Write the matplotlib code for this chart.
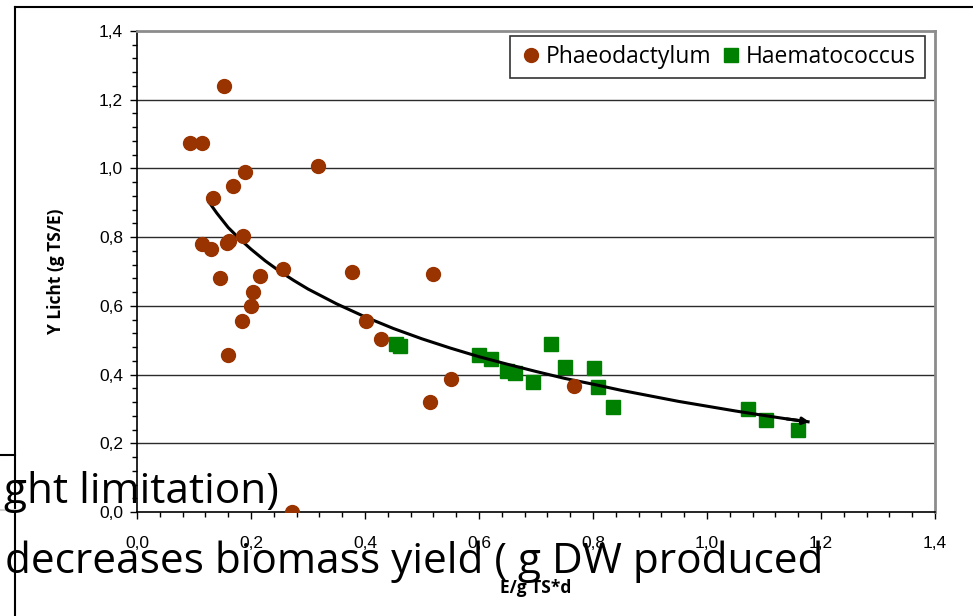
import matplotlib
matplotlib.use("Agg")
import matplotlib.pyplot as plt
from matplotlib.lines import Line2D
from matplotlib.ticker import MultipleLocator, FuncFormatter

# %% data
phaeo_x = [0.093, 0.114, 0.153, 0.133, 0.168, 0.189, 0.318, 0.114, 0.130, 0.158,
           0.161, 0.186, 0.146, 0.216, 0.256, 0.204, 0.200, 0.184, 0.160, 0.377,
           0.519, 0.402, 0.428, 0.551, 0.514, 0.767, 0.272]
phaeo_y = [1.074, 1.074, 1.240, 0.914, 0.949, 0.990, 1.007, 0.780, 0.765, 0.783,
           0.789, 0.803, 0.681, 0.687, 0.707, 0.640, 0.600, 0.556, 0.457, 0.698,
           0.693, 0.556, 0.503, 0.387, 0.320, 0.367, 0.000]

haem_x = [0.454, 0.461, 0.600, 0.621, 0.649, 0.663, 0.695, 0.726, 0.751, 0.802,
          0.809, 0.835, 1.072, 1.104, 1.160]
haem_y = [0.489, 0.483, 0.457, 0.445, 0.410, 0.405, 0.378, 0.489, 0.422, 0.419,
          0.364, 0.306, 0.300, 0.268, 0.239]

# trend line (arrow)
trend_x = [0.125, 0.14, 0.16, 0.18, 0.2, 0.225, 0.25, 0.275, 0.3, 0.35, 0.4, 0.45,
           0.5, 0.55, 0.6, 0.65, 0.7, 0.75, 0.8, 0.85, 0.9, 0.95, 1.0, 1.05,
           1.1, 1.14, 1.18]
trend_y = [0.905, 0.870, 0.828, 0.795, 0.765, 0.731, 0.701, 0.674, 0.649, 0.606,
           0.568, 0.534, 0.504, 0.477, 0.452, 0.430, 0.409, 0.389, 0.372, 0.354,
           0.338, 0.322, 0.308, 0.294, 0.281, 0.271, 0.262]

labels = ["Phaeodactylum", "Haematococcus"]
x_label = "E/g TS*d"
y_label = "Y Licht (g TS/E)"
overlay_1 = "ght limitation)"
overlay_2 = "decreases biomass yield ( g DW produced"

brown = "#993300"
green = "#008000"

W, H = 973, 616
fig = plt.figure(figsize=(W / 100, H / 100), dpi=100)
ax = fig.add_axes([137 / W, 1 - 512 / H, (935 - 137) / W, (512 - 31) / H])

# %% marks
h_haem, = ax.plot(haem_x, haem_y, ls="none", marker="s", ms=10, color=green,
                  mec=green, label=labels[1], zorder=3)
ax.plot(trend_x, trend_y, color="black", lw=2.2, zorder=4, solid_capstyle="butt",
        solid_joinstyle="round")
ax.annotate("", xy=(trend_x[-1], trend_y[-1]), xytext=(trend_x[-2], trend_y[-2]),
            arrowprops=dict(arrowstyle="-|>", color="black", lw=2.2,
                            mutation_scale=10, shrinkA=0, shrinkB=0), zorder=4)
h_phaeo, = ax.plot(phaeo_x, phaeo_y, ls="none", marker="o", ms=10, color=brown,
                   mec=brown, label=labels[0], zorder=5)

# %% axes
ax.set_xlim(0, 1.4)
ax.set_ylim(0, 1.4)
ax.xaxis.set_major_locator(MultipleLocator(0.2))
ax.yaxis.set_major_locator(MultipleLocator(0.2))
ax.xaxis.set_minor_locator(MultipleLocator(0.04))
ax.yaxis.set_minor_locator(MultipleLocator(0.04))
fmt = FuncFormatter(lambda v, p: f"{v:.1f}".replace(".", ","))
ax.xaxis.set_major_formatter(fmt)
ax.yaxis.set_major_formatter(fmt)
ax.tick_params(which="both", direction="out", top=False, right=False,
               width=1, color="black")
ax.tick_params(which="major", length=5, labelsize=12.5, labelfontfamily="Liberation Sans")
ax.tick_params(which="minor", length=3.5)
ax.tick_params(axis="x", which="major", pad=12)
ax.tick_params(axis="y", which="major", pad=5)

for yv in [0.2, 0.4, 0.6, 0.8, 1.0, 1.2]:
    ax.axhline(yv, color="#2b2b2b", lw=1.0, zorder=1)

for s in ["left", "bottom"]:
    ax.spines[s].set_color("black")
    ax.spines[s].set_linewidth(1.2)
for s in ["top", "right"]:
    ax.spines[s].set_color("#8c8c8c")
    ax.spines[s].set_linewidth(2)

ax.set_xlabel(x_label, fontsize=12.5, fontweight="bold", family="Open Sans")
ax.xaxis.set_label_coords(0.5, -(579 - 512) / (512 - 31), transform=ax.transAxes)
ax.set_ylabel(y_label, fontsize=12.5, fontweight="bold", family="Open Sans")
ax.yaxis.set_label_coords(-(137 - 65) / (935 - 137), 0.5)

leg = ax.legend(handles=[h_phaeo, h_haem], loc="upper right", ncol=2, frameon=True,
                fancybox=False,
                bbox_to_anchor=((925 - 137) / (935 - 137), 1 - (36 - 31) / (512 - 31)),
                borderaxespad=0, handletextpad=0.15, columnspacing=0.35,
                handlelength=1.0, borderpad=0.4,
                prop={"family": "Open Sans", "size": 16.5})
leg.get_frame().set_edgecolor("black")
leg.get_frame().set_linewidth(1.2)

# %% slide frame and overlapping text
fig.add_artist(Line2D([15 / W, 15 / W], [0, 1 - 7 / H], color="black", lw=1.5))
fig.add_artist(Line2D([15 / W, 1], [1 - 7 / H, 1 - 7 / H], color="black", lw=1.5))
fig.add_artist(Line2D([0, 15 / W], [1 - 455 / H, 1 - 455 / H], color="black", lw=1.5))
fig.add_artist(Line2D([0, 15 / W], [1 - 510 / H, 1 - 510 / H], color="#cfcfcf", lw=1.5))

fig.text(279 / W, 1 - 503 / H, overlay_1, ha="right", va="baseline",
         fontsize=30.5, family="Open Sans", color="black", zorder=10)
fig.text(5 / W, 1 - 573 / H, overlay_2, ha="left", va="baseline",
         fontsize=30.5, family="Open Sans", color="black", zorder=10)

fig.savefig("out.png", dpi=100)
